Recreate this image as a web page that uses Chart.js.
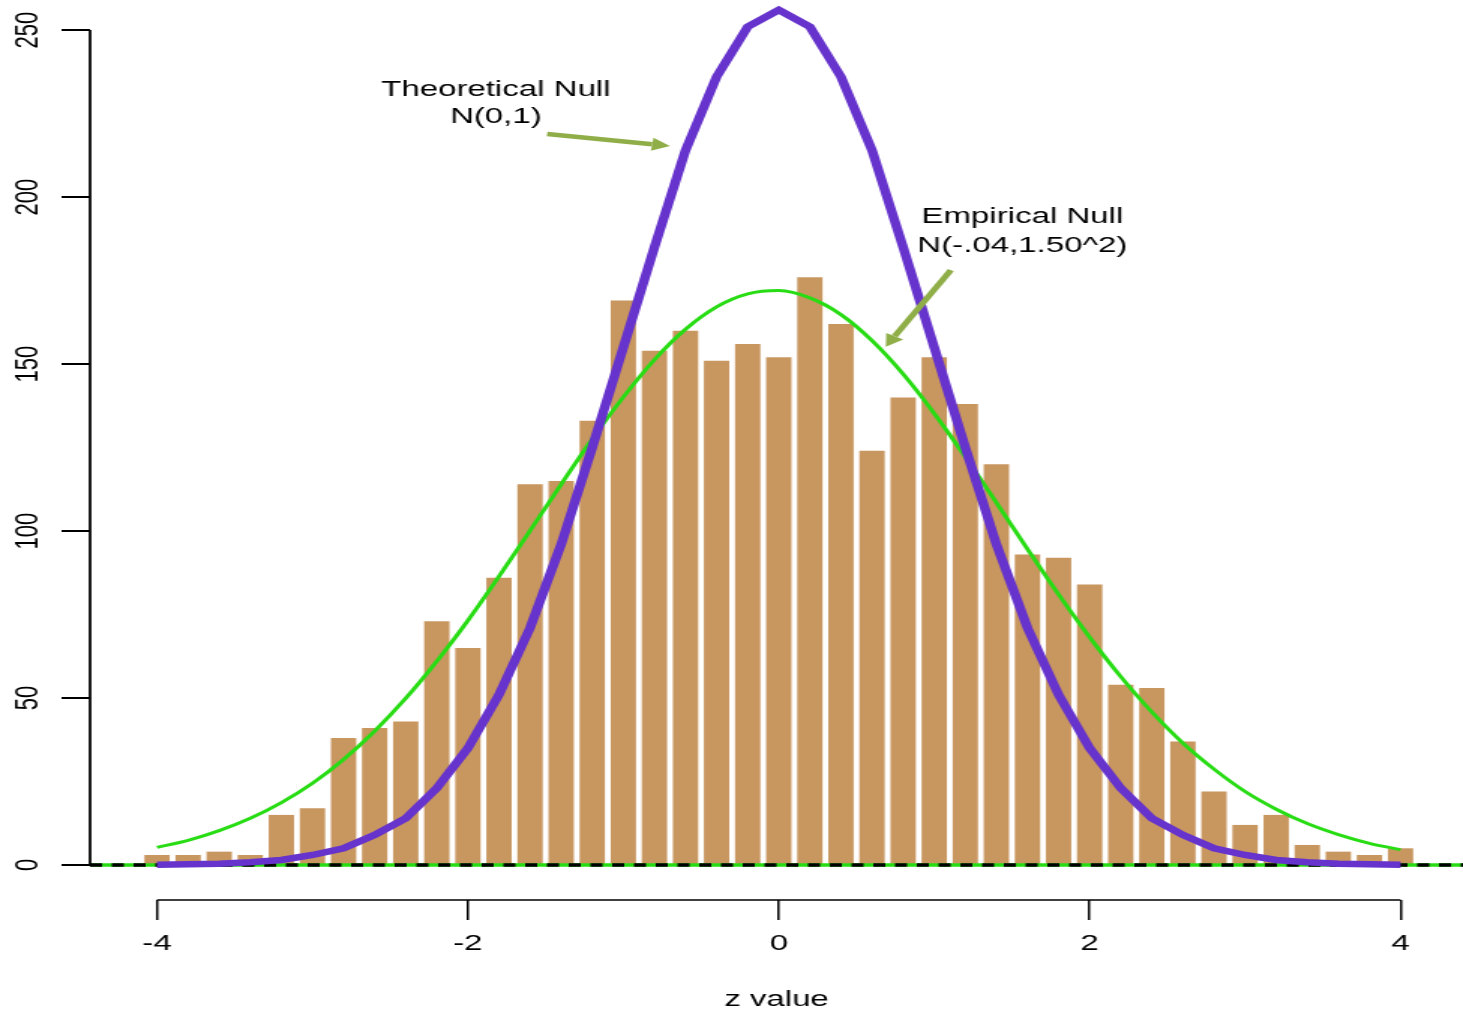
<!DOCTYPE html>
<html>
<head>
<meta charset="utf-8">
<script src="https://cdn.jsdelivr.net/npm/chart.js@4/dist/chart.umd.min.js"></script>
<style>
  html, body { margin: 0; padding: 0; background: #fff; }
</style>
</head>
<body>
<!-- the picture is wider than tall by a factor 1.5, so the canvas is stretched -->
<canvas id="histo" width="975" height="1016" style="display:block;width:1463px;height:1016px"></canvas>
<script>
// centros de los intervalos (z value)
const binCenters = [-4, -3.8, -3.6, -3.4, -3.2, -3, -2.8, -2.6, -2.4, -2.2, -2,
  -1.8, -1.6, -1.4, -1.2, -1, -0.8, -0.6, -0.4, -0.2, 0,
  0.2, 0.4, 0.6, 0.8, 1, 1.2, 1.4, 1.6, 1.8, 2,
  2.2, 2.4, 2.6, 2.8, 3, 3.2, 3.4, 3.6, 3.8, 4];

// alturas del histograma
const counts = [3, 3, 4, 3, 15, 17, 38, 41, 43, 73, 65,
  86, 114, 115, 133, 169, 154, 160, 151, 156, 152,
  176, 162, 124, 140, 152, 138, 120, 93, 92, 84,
  54, 53, 37, 22, 12, 15, 6, 4, 3, 5];

// curva nula teorica N(0,1)
const theoreticalNull = [0.1, 0.2, 0.4, 0.8, 1.5, 3, 5, 9, 14, 23, 35,
  51, 71, 96, 125, 155, 185, 214, 236, 251, 256,
  251, 236, 214, 185, 155, 125, 96, 71, 51, 35,
  23, 14, 9, 5, 3, 1.5, 0.8, 0.4, 0.2, 0.1];

// curva nula empirica N(-.04,1.50^2)
const empiricalNull = [5.3, 7.4, 10.3, 14, 18.7, 24.5, 31.6, 40.1, 49.9, 61, 73.2,
  86.4, 100.1, 114, 127.6, 140.1, 151.3, 160.4, 167.1, 171, 172,
  169.8, 164.8, 157, 147, 135.2, 122.2, 108.5, 94.6, 81, 68.2,
  56.4, 45.8, 36.5, 28.7, 22, 16.7, 12.4, 9.1, 6.5, 4.6];

const xTicks = [-4, -2, 0, 2, 4];
const yTicks = [0, 50, 100, 150, 200, 250];
const xLabel = 'z value';
const theoNote = ['Theoretical Null', 'N(0,1)'];
const empNote = ['Empirical Null', 'N(-.04,1.50^2)'];

const FONT = '"Liberation Sans", Arial, sans-serif';
const ARROW = '#8fae48';

function toPoints(values) {
    return binCenters.map((z, i) => ({ x: z, y: values[i] }));
}

function drawArrow(ctx, x1, y1, x2, y2) {
    const ang = Math.atan2(y2 - y1, x2 - x1);
    const head = 12, half = 6.5;
    const bx = x2 - head * Math.cos(ang);
    const by = y2 - head * Math.sin(ang);
    ctx.beginPath();
    ctx.moveTo(x1, y1);
    ctx.lineTo(bx, by);
    ctx.stroke();
    ctx.beginPath();
    ctx.moveTo(x2, y2);
    ctx.lineTo(bx + half * Math.sin(ang), by - half * Math.cos(ang));
    ctx.lineTo(bx - half * Math.sin(ang), by + half * Math.cos(ang));
    ctx.closePath();
    ctx.fill();
}

// ejes estilo R + linea en cero + notas con flechas
const rStyle = {
    id: 'rStyle',
    afterDatasetDraw(chart, args) {
        if (args.meta.type !== 'bar') return;
        const { ctx, chartArea, scales: { y } } = chart;
        const y0 = y.getPixelForValue(0);
        ctx.save();
        ctx.lineWidth = 3.5;
        ctx.strokeStyle = '#28dc14';
        ctx.beginPath();
        ctx.moveTo(chartArea.left, y0);
        ctx.lineTo(chartArea.right, y0);
        ctx.stroke();
        ctx.strokeStyle = '#000';
        ctx.setLineDash([8, 6.5]);
        ctx.beginPath();
        ctx.moveTo(chartArea.left, y0);
        ctx.lineTo(chartArea.right, y0);
        ctx.stroke();
        ctx.restore();
    },
    afterDraw(chart) {
        const { ctx, chartArea, scales: { x, y } } = chart;
        ctx.save();
        ctx.strokeStyle = '#000';
        // eje y
        ctx.lineWidth = 1.8;
        ctx.beginPath();
        ctx.moveTo(chartArea.left, y.getPixelForValue(yTicks[0]));
        ctx.lineTo(chartArea.left, y.getPixelForValue(yTicks[yTicks.length - 1]));
        ctx.stroke();
        // eje x
        ctx.lineWidth = 1.7;
        ctx.beginPath();
        ctx.moveTo(x.getPixelForValue(xTicks[0]), chartArea.bottom);
        ctx.lineTo(x.getPixelForValue(xTicks[xTicks.length - 1]), chartArea.bottom);
        ctx.stroke();

        // textos
        ctx.fillStyle = '#000';
        ctx.font = '22px ' + FONT;
        ctx.textAlign = 'center';
        ctx.textBaseline = 'alphabetic';
        ctx.fillText(theoNote[0], x.getPixelForValue(-1.82), y.getPixelForValue(230.2));
        ctx.fillText(theoNote[1], x.getPixelForValue(-1.82), y.getPixelForValue(222.2));
        ctx.fillText(empNote[0], x.getPixelForValue(1.567), y.getPixelForValue(192.2));
        ctx.fillText(empNote[1], x.getPixelForValue(1.567), y.getPixelForValue(183.5));

        // flechas
        ctx.strokeStyle = ARROW;
        ctx.fillStyle = ARROW;
        ctx.lineWidth = 4.5;
        drawArrow(ctx, x.getPixelForValue(-1.49), y.getPixelForValue(218.9),
            x.getPixelForValue(-0.70), y.getPixelForValue(215.3));
        drawArrow(ctx, x.getPixelForValue(1.107), y.getPixelForValue(178.1),
            x.getPixelForValue(0.689), y.getPixelForValue(155.2));
        ctx.restore();
    }
};

Chart.defaults.font.family = FONT;
Chart.defaults.font.size = 22;
Chart.defaults.color = '#000';

new Chart(document.getElementById('histo'), {
    type: 'bar',
    data: {
        datasets: [
            {
                type: 'line',
                label: 'Theoretical Null',
                data: toPoints(theoreticalNull),
                borderColor: '#6633cc',
                borderWidth: 6.5,
                pointRadius: 0,
                tension: 0,
                order: 1
            },
            {
                type: 'line',
                label: 'Empirical Null',
                data: toPoints(empiricalNull),
                borderColor: '#28dc14',
                borderWidth: 3,
                pointRadius: 0,
                cubicInterpolationMode: 'monotone',
                order: 2
            },
            {
                type: 'bar',
                label: 'z values',
                data: toPoints(counts),
                backgroundColor: '#c8965f',
                borderWidth: 0,
                barPercentage: 0.815,
                categoryPercentage: 1,
                order: 3
            }
        ]
    },
    options: {
        responsive: false,
        animation: false,
        layout: { padding: 0, autoPadding: false },
        plugins: {
            legend: { display: false },
            tooltip: { enabled: false }
        },
        scales: {
            x: {
                type: 'linear',
                min: -4.431,
                max: 4.402,
                offset: false,
                grid: { display: true, drawOnChartArea: false, drawTicks: true, tickLength: 20, color: '#000', lineWidth: 1.5, offset: false },
                border: { display: false },
                ticks: { padding: 11, maxRotation: 0, autoSkip: false },
                afterBuildTicks: s => { s.ticks = xTicks.map(v => ({ value: v })); },
                afterFit: s => { s.height = 116; s.paddingLeft = 0; s.paddingRight = 0; },
                title: { display: true, text: xLabel, padding: { top: 0, bottom: 3 } }
            },
            y: {
                type: 'linear',
                min: -10.48,
                max: 259,
                grid: { display: true, drawOnChartArea: false, drawTicks: true, tickLength: 19, color: '#000', lineWidth: 2 },
                border: { display: false },
                ticks: { minRotation: 90, maxRotation: 90, crossAlign: 'center', padding: 3.5, autoSkip: false },
                afterBuildTicks: s => { s.ticks = yTicks.map(v => ({ value: v })); },
                afterFit: s => { s.width = 60; s.paddingTop = 0; s.paddingBottom = 0; }
            }
        }
    },
    plugins: [rStyle]
});
</script>
</body>
</html>
